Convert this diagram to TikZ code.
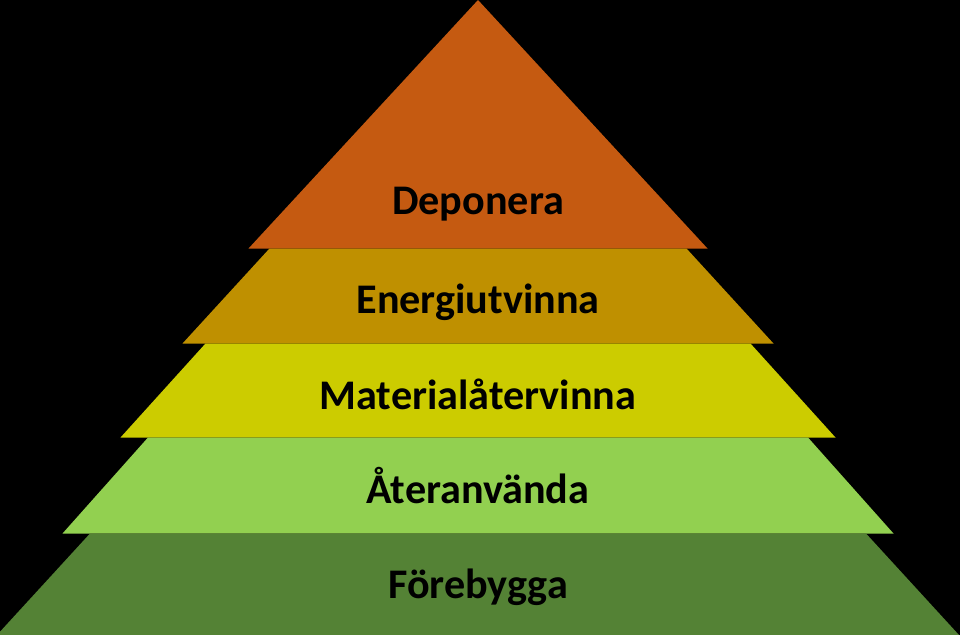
\documentclass[tikz,border=0pt]{standalone}
\usepackage{fontspec}
\setmainfont{Carlito}
\definecolor{deporange}{RGB}{197, 90, 17}
\definecolor{energold}{RGB}{191, 144, 0}
\definecolor{matyellow}{RGB}{204, 204, 0}
\definecolor{reuselime}{RGB}{146, 208, 80}
\definecolor{prevgreen}{RGB}{84, 130, 53}
\usetikzlibrary{positioning}

\begin{document}
\begin{tikzpicture}[x=0.02cm, y=-0.02cm]
  \tikzset{
    layerlabel/.style={font=\fontsize{24}{28}\selectfont\bfseries, text=black, inner sep=0pt, anchor=base}
  }
  % Background
  \fill[black] (0, 0) rectangle (960, 635);
  \useasboundingbox (0, 0) rectangle (960, 635);

  % Layers, top to bottom
  \fill[deporange] (478, 0) -- (707.5, 248.5) -- (248.5, 248.5) -- cycle;
  \fill[energold] (269.5, 248.5) -- (686.5, 248.5) -- (773.5, 343.5) -- (182.5, 343.5) -- cycle;
  \fill[matyellow] (205.5, 343.5) -- (750.5, 343.5) -- (835.5, 437.5) -- (120.5, 437.5) -- cycle;
  \fill[reuselime] (148, 437.5) -- (808, 437.5) -- (893.5, 533.5) -- (62.5, 533.5) -- cycle;
  \fill[prevgreen] (90, 533.5) -- (866, 533.5) -- (959, 635) -- (-3, 635) -- cycle;

  % Labels
  \node[layerlabel] (deponera) at (478, 214) {Deponera};
  \node[layerlabel] (energi) at (478, 313) {Energiutvinna};
  \node[layerlabel] (material) at (478, 409) {Materialåtervinna};
  \node[layerlabel] (ateranv) at (478, 503) {Återanvända};
  \node[layerlabel] (forebygga) at (478, 598) {Förebygga};
\end{tikzpicture}
\end{document}
